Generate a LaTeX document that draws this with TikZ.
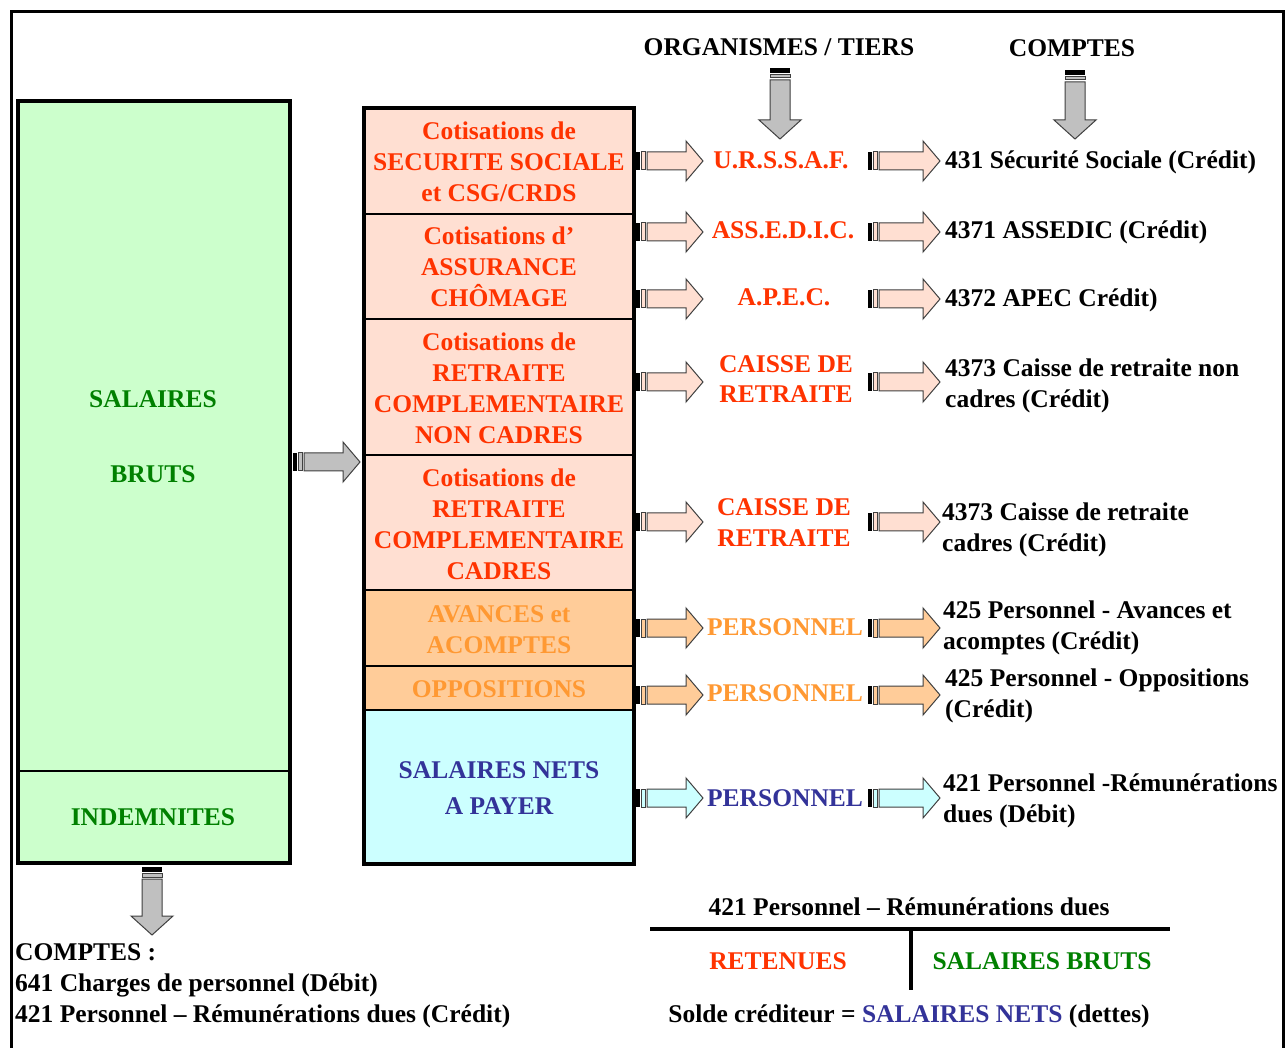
\documentclass[tikz,border=0pt]{standalone}
\usepackage{fontspec}
\setmainfont{Liberation Serif}
\definecolor{pinkfill}{HTML}{FFDFD2}
\definecolor{orangefill}{HTML}{FFCC99}
\definecolor{cyanfill}{HTML}{CCFFFF}
\definecolor{greenfill}{HTML}{CCFFCC}
\definecolor{redtxt}{HTML}{FF3300}
\definecolor{orangetxt}{HTML}{FF9933}
\definecolor{bluetxt}{HTML}{333399}
\definecolor{greentxt}{HTML}{008000}
\definecolor{arrowgray}{HTML}{C0C0C0}
\definecolor{edgegray}{HTML}{404040}
\tikzset{
  txt/.style={font=\fontsize{25.5}{31}\selectfont\bfseries, inner sep=0pt},
  red/.style={txt, text=redtxt, align=center},
  orng/.style={txt, text=orangetxt, align=center},
  blu/.style={txt, text=bluetxt, align=center},
  grn/.style={txt, text=greentxt, align=center},
  acct/.style={txt, text=black, anchor=west, align=left},
  arrowedge/.style={draw=edgegray, line width=1pt},
}
% horizontal striped block arrow: #1 start x, #2 tip x, #3 centre y, #4 fill
\newcommand{\harrowblk}[4]{%
  \fill[black] (#1,#3-9) rectangle (#1+4,#3+9);
  \draw[arrowedge, fill=#4] (#1+5.5,#3-9) rectangle (#1+9,#3+9);
  \draw[arrowedge, fill=#4] (#1+11,#3-9) -- (#2-17,#3-9) -- (#2-17,#3-20) -- (#2,#3)
     -- (#2-17,#3+20) -- (#2-17,#3+9) -- (#1+11,#3+9) -- cycle;}
% vertical striped block arrow pointing down: #1 centre x, #2 start y, #3 tip y
\newcommand{\varrowblk}[3]{%
  \fill[black] (#1-10,#2) rectangle (#1+10,#2+5);
  \draw[arrowedge, fill=arrowgray] (#1-10,#2+6.5) rectangle (#1+10,#2+10);
  \draw[arrowedge, fill=arrowgray] (#1-10,#2+12) -- (#1-10,#3-19) -- (#1-21,#3-19) -- (#1,#3)
     -- (#1+21,#3-19) -- (#1+10,#3-19) -- (#1+10,#2+12) -- cycle;}
\begin{document}
\begin{tikzpicture}[x=1pt,y=-1pt]
\useasboundingbox (0,0) rectangle (1286,1048);
\fill[white] (0,0) rectangle (1286,1048);
\clip (0,0) rectangle (1286,1048);
\draw[line width=3pt] (11,1060) -- (11,12) -- (1283,12) -- (1283,1060);

% left box
\fill[greenfill] (18,101) rectangle (290,863);
\draw[line width=1.5pt] (18,771) -- (290,771);
\draw[line width=4pt] (18,101) rectangle (290,863);
\node[grn] (sal) at (153,399) {SALAIRES};
\node[grn] (bruts) at (153,474) {BRUTS};
\node[grn] (indem) at (153,817) {INDEMNITES};

% middle box
\fill[pinkfill] (364,108) rectangle (634,590);
\fill[orangefill] (364,590) rectangle (634,710);
\fill[cyanfill] (364,710) rectangle (634,864);
\foreach \yy in {214,319,455,590,666,710} \draw[line width=1.5pt] (364,\yy) -- (634,\yy);
\draw[line width=4pt] (364,108) rectangle (634,864);

\node[red] (c1) at (499,162) {Cotisations de\\SECURITE SOCIALE\\et CSG/CRDS};
\node[red] (c2) at (499,267) {Cotisations d’\\ASSURANCE\\CHÔMAGE};
\node[red] (c3) at (499,388) {Cotisations de\\RETRAITE\\COMPLEMENTAIRE\\NON CADRES};
\node[red] (c4) at (499,524) {Cotisations de\\RETRAITE\\COMPLEMENTAIRE\\CADRES};
\node[orng] (c5) at (499,629.5) {AVANCES et\\ACOMPTES};
\node[orng] (c6) at (499,689) {OPPOSITIONS};
\node[blu, font=\fontsize{25.5}{36}\selectfont\bfseries] (c7) at (499,788) {SALAIRES NETS\\A PAYER};

% headers
\node[txt] (horg) at (779,47) {ORGANISMES / TIERS};
\node[txt] (hcpt) at (1072,48) {COMPTES};
\varrowblk{780}{68}{139}
\varrowblk{1075}{70}{139}

% left -> middle arrow
\harrowblk{293}{360}{462}{arrowgray}

% arrows
\foreach \yy/\cc in {161/pinkfill,232/pinkfill,299/pinkfill,382/pinkfill,522/pinkfill,628/orangefill,695/orangefill,798/cyanfill}{
  \harrowblk{636}{703}{\yy}{\cc}
  \harrowblk{868}{940}{\yy}{\cc}
}

% organisms
\node[red] (o1) at (781,160) {U.R.S.S.A.F.};
\node[red] (o2) at (783,230) {ASS.E.D.I.C.};
\node[red] (o3) at (784,297) {A.P.E.C.};
\node[red, font=\fontsize{25.5}{30}\selectfont\bfseries] (o4) at (786,379) {CAISSE DE\\RETRAITE};
\node[red, font=\fontsize{25.5}{31}\selectfont\bfseries] (o5) at (784,523) {CAISSE DE\\RETRAITE};
\node[orng] (o6) at (785,627) {PERSONNEL};
\node[orng] (o7) at (785,693) {PERSONNEL};
\node[blu] (o8) at (785,798) {PERSONNEL};

% accounts
\node[acct] (a1) at (945,162.5) {431 Sécurité Sociale (Crédit)};
\node[acct] (a2) at (945,232.5) {4371 ASSEDIC (Crédit)};
\node[acct] (a3) at (945,300.5) {4372 APEC Crédit)};
\node[acct] (a4) at (945,386) {4373 Caisse de retraite non\\cadres (Crédit)};
\node[acct] (a5) at (942,529.5) {4373 Caisse de retraite\\cadres (Crédit)};
\node[acct] (a6) at (943,627.5) {425 Personnel - Avances et\\acomptes (Crédit)};
\node[acct] (a7) at (945,696) {425 Personnel - Oppositions\\(Crédit)};
\node[acct] (a8) at (943,800.5) {421 Personnel -Rémunérations\\dues (Débit)};

% bottom left
\varrowblk{152}{867}{935}
\node[acct] (b1) at (15,952) {COMPTES :};
\node[acct] (b2) at (15,985) {641 Charges de personnel (Débit)};
\node[acct] (b3) at (15,1016) {421 Personnel – Rémunérations dues (Crédit)};

% T account
\node[txt] (t0) at (909,907) {421 Personnel – Rémunérations dues};
\draw[line width=4pt] (650,929) -- (1170,929);
\draw[line width=3.5pt] (911,929) -- (911,990);
\node[red] (t1) at (778,961) {RETENUES};
\node[grn] (t2) at (1042,961) {SALAIRES BRUTS};
\node[txt] (t3) at (909,1016) {Solde créditeur = \textcolor{bluetxt}{SALAIRES NETS} (dettes)};
\end{tikzpicture}
\end{document}
